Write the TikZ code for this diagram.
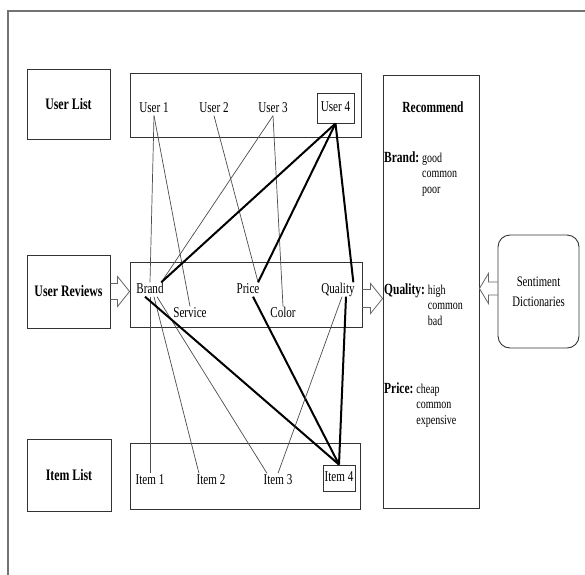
\documentclass[tikz,border=0pt]{standalone}
\usepackage{fontspec}
\setmainfont{Liberation Serif}[FakeStretch=0.74]
\usepackage{tikz}
\usetikzlibrary{
    calc,
    positioning
}
\tikzstyle{link}=[line width=0.7pt,draw=black!70]
\tikzstyle{strong}=[line width=2pt,draw=black]
\tikzstyle{hollow}=[line width=0.8pt,draw=black!60,line join=miter]

% block arrow: start, end, shaft half width, head length
\newcommand{\hollowarrow}[4]{%
  \draw[hollow] let \p1=(#1), \p2=(#2) in
    (\x1,{\y1+#3}) -- ({\x2-(#4)},{\y1+#3}) -- ({\x2-(#4)},{\y1+15pt})
    -- (\x2,\y1) -- ({\x2-(#4)},{\y1-15pt}) -- ({\x2-(#4)},{\y1-#3})
    -- (\x1,{\y1-#3});}

\begin{document}
\begin{tikzpicture}[
    x=1pt, y=-1pt,
    every node/.style={font=\fontsize{15}{18}\selectfont},
    box/.style={
        rectangle,
        draw=black!80,
        line width=0.9pt,
        inner sep=0pt
    },
    listbox/.style={box, font=\fontsize{16}{19}\selectfont\bfseries},
    lbl/.style={inner sep=0.5pt, text height=10pt, text depth=3pt},
    aspect/.style={anchor=base west, inner sep=0pt,
        font=\fontsize{15.5}{18}\selectfont\bfseries},
    vals/.style={anchor=north west, inner sep=0pt, align=left,
        font=\fontsize{13.5}{15.5}\selectfont}
]
\useasboundingbox (0,0) rectangle (585,574);
\clip (0,0) rectangle (585,574);
\draw[draw=black!55, line width=1.2pt] (8,11) rectangle (620,620);

% users
\node[listbox, minimum width=83pt, minimum height=70pt] (userlist) at (68.5,104) {User List};
\node[box, minimum width=231pt, minimum height=64pt] (userrow) at (245.5,105) {};
\node[lbl] (u1) at (154,108.5) {User 1};
\node[lbl] (u2) at (214,108.5) {User 2};
\node[lbl] (u3) at (273,108.5) {User 3};
\node[lbl, draw=black!80, line width=0.9pt, minimum width=37pt, minimum height=30pt] (u4) at (335.5,108) {User 4};

% reviews
\node[listbox, minimum width=83pt, minimum height=73pt] (userrev) at (68.5,291.5) {User Reviews};
\node[box, minimum width=232pt, minimum height=65pt] (revrow) at (246,294.5) {};
\node[lbl] (brand) at (150,289.5) {Brand};
\node[lbl] (service) at (190,313.5) {Service};
\node[lbl] (price) at (248,289.5) {Price};
\node[lbl] (color) at (283,313.5) {Color};
\node[lbl] (quality) at (338,289.5) {Quality};

% items
\node[listbox, minimum width=84pt, minimum height=72pt] (itemlist) at (69,475) {Item List};
\node[box, minimum width=230pt, minimum height=66pt] (itemrow) at (245,476) {};
\node[lbl] (i1) at (150,480.5) {Item 1};
\node[lbl] (i2) at (211,480.5) {Item 2};
\node[lbl] (i3) at (278,480.5) {Item 3};
\node[lbl, draw=black!80, line width=0.9pt, minimum width=32pt, minimum height=26pt] (i4) at (339,478) {Item 4};

% recommend
\node[box, minimum width=96pt, minimum height=433pt] (rec) at (431,291.5) {};
\node[font=\fontsize{15.5}{18}\selectfont\bfseries, anchor=base] (rechead) at (433,112) {Recommend};
\node[aspect] (kbrand) at (384,162) {Brand:};
\node[vals] (vbrand) at ([xshift=2.5pt,yshift=9.5pt]kbrand.base east) {good\\common\\poor};
\node[aspect] (kquality) at (384,294) {Quality:};
\node[vals] (vquality) at ([xshift=2.5pt,yshift=9.5pt]kquality.base east) {high\\common\\bad};
\node[aspect] (kprice) at (384,393) {Price:};
\node[vals] (vprice) at ([xshift=2.5pt,yshift=9.5pt]kprice.base east) {cheap\\common\\expensive};

\node[box, rounded corners=12pt, minimum width=81pt, minimum height=113pt, align=center,
    font=\fontsize{14.5}{20}\selectfont] (senti) at (538.5,291.5) {Sentiment\\Dictionaries};

% users to reviews
\draw[link] (u1.south) -- (brand.north);
\draw[link] (u1.south) -- (service.north);
\draw[link] (u2.south) -- ([xshift=-2pt]price.north east);
\draw[link] (u3.south) -- ([xshift=-3pt]brand.north east);
\draw[link] (u3.south) -- (color.north);
\draw[strong] (u4.south) -- ([xshift=-3pt]brand.north east);
\draw[strong] (u4.south) -- ([xshift=-2pt]price.north east);
\draw[strong] (u4.south) -- ([xshift=-2pt]quality.north east);

% reviews to items
\draw[link] (brand.south) -- (i1.north);
\draw[link] ([xshift=4pt]brand.south) -- ([xshift=3pt]i2.north west);
\draw[link] ([xshift=7pt]brand.south) -- ([xshift=4pt]i3.north west);
\draw[strong] ([xshift=-5pt]brand.south) -- (i4.north);
\draw[strong] ([xshift=5pt]price.south) -- (i4.north);
\draw[link] ([xshift=4pt]quality.south) -- (i3.north);
\draw[strong] ([xshift=8pt]quality.south) -- (i4.north);

\hollowarrow{userrev.east}{revrow.west}{8pt}{12pt}
\hollowarrow{[yshift=-4pt]revrow.east}{rec.west}{9pt}{12pt}
\hollowarrow{[yshift=3pt]senti.west}{rec.east}{6.5pt}{-9pt}
\end{tikzpicture}
\end{document}
